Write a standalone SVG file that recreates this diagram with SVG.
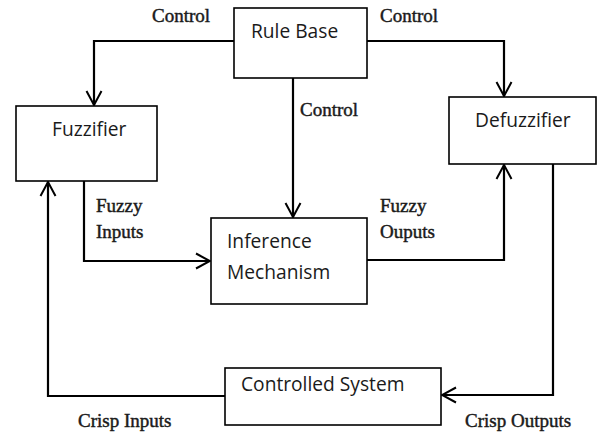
<svg xmlns="http://www.w3.org/2000/svg" width="597" height="435" viewBox="0 0 597 435">
  <style>
    .box { fill: #ffffff; stroke: #000000; stroke-width: 1.6; }
    .name { font-family: "Open Sans", "Liberation Sans", sans-serif; font-size: 19.2px; fill: #1a1a1a; }
    .lbl { font-family: "Liberation Serif", "Times New Roman", serif; font-size: 19px; fill: #1a1a1a; stroke: #1a1a1a; stroke-width: 0.45; }
    .wire { fill: none; stroke: #000000; stroke-width: 2.2; stroke-linejoin: miter; }
  </style>
  <defs>
    <!-- open V arrowhead -->
    <marker id="vee" viewBox="0 0 16 18" refX="15" refY="9" markerWidth="16" markerHeight="18" markerUnits="userSpaceOnUse" orient="auto">
      <path d="M1,1.5 L15,9 L1,16.5" fill="none" stroke="#000000" stroke-width="2"/>
    </marker>
  </defs>
  <rect width="597" height="435" fill="#ffffff"/>

  <g id="connectors">
    <!-- control lines from the rule base -->
    <path class="wire" d="M234,41 H94 V105" marker-end="url(#vee)"/>
    <path class="wire" d="M367,41 H504 V96" marker-end="url(#vee)"/>
    <path class="wire" d="M293,78 V217" marker-end="url(#vee)"/>
    <!-- fuzzy signals -->
    <path class="wire" d="M84,181 V261 H210" marker-end="url(#vee)"/>
    <path class="wire" d="M367,260 H504 V165" marker-end="url(#vee)"/>
    <!-- crisp loop through the plant -->
    <path class="wire" d="M553,164 V395 H442" marker-end="url(#vee)"/>
    <path class="wire" d="M225,396 H48 V182" marker-end="url(#vee)"/>

    <text class="lbl" x="152" y="22">Control</text>
    <text class="lbl" x="380" y="22">Control</text>
    <text class="lbl" x="300" y="116">Control</text>
    <text class="lbl" x="96" y="212">Fuzzy</text>
    <text class="lbl" x="96" y="238">Inputs</text>
    <text class="lbl" x="380" y="212">Fuzzy</text>
    <text class="lbl" x="380" y="238">Ouputs</text>
    <text class="lbl" x="78" y="427">Crisp Inputs</text>
    <text class="lbl" x="465" y="427">Crisp Outputs</text>
  </g>

  <g id="rule-base">
    <rect class="box" x="234" y="8" width="133" height="70"/>
    <text class="name" x="251" y="38">Rule Base</text>
  </g>
  <g id="fuzzifier">
    <rect class="box" x="16" y="106" width="141" height="75"/>
    <text class="name" x="52" y="136">Fuzzifier</text>
  </g>
  <g id="defuzzifier">
    <rect class="box" x="449" y="97" width="147" height="67"/>
    <text class="name" x="475" y="127">Defuzzifier</text>
  </g>
  <g id="inference-mechanism">
    <rect class="box" x="211" y="218" width="156" height="86"/>
    <text class="name" x="227" y="248">Inference</text>
    <text class="name" x="227" y="279">Mechanism</text>
  </g>
  <g id="controlled-system">
    <rect class="box" x="225" y="368" width="216" height="57"/>
    <text class="name" x="241" y="391">Controlled System</text>
  </g>
</svg>
